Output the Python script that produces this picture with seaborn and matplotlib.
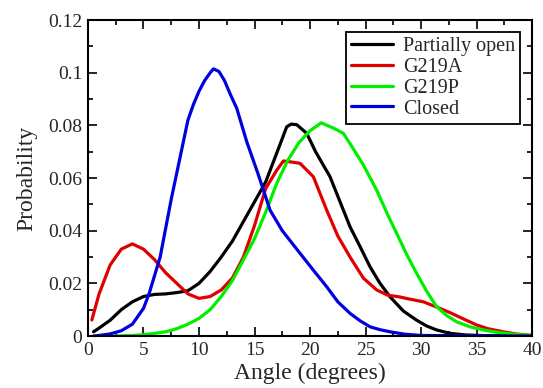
import pandas as pd
import matplotlib
matplotlib.use("Agg")
import matplotlib.pyplot as plt
import seaborn as sns
from matplotlib.ticker import MultipleLocator

# Distribution des angles pour les 4 états
open_x = [0.5, 1, 2, 3, 4, 5, 6, 7, 8, 9, 10, 11, 12, 13, 14, 15, 16, 17, 17.9, 18.3, 18.8,
          19.7, 20.5, 21.8, 22.7, 23.6, 24.5, 25.4, 26.3, 27.2, 28.4, 29.6, 30.5, 31.4,
          32.6, 34, 36, 40]
open_y = [0.0016, 0.003, 0.006, 0.010, 0.013, 0.015, 0.0158, 0.016, 0.0165, 0.0172, 0.020,
          0.0245, 0.030, 0.036, 0.0435, 0.051, 0.0585, 0.0695, 0.0795, 0.0805, 0.0803,
          0.077, 0.070, 0.0605, 0.051, 0.0415, 0.034, 0.0263, 0.020, 0.0149, 0.0095, 0.006,
          0.0038, 0.0023, 0.001, 0.0004, 0.0001, 0.0]

g219a_x = [0.35, 1, 2, 3, 4, 5, 6, 7, 8, 9, 10, 11, 12, 13, 14, 15, 16, 17, 17.6, 18.5,
           19.1, 20.3, 21.5, 22.5, 23.6, 24.8, 26, 27, 28, 29, 30.2, 31.4, 32.6, 33.8, 35,
           36, 37.4, 38.5, 40]
g219a_y = [0.0061, 0.016, 0.027, 0.033, 0.035, 0.033, 0.029, 0.024, 0.020, 0.016, 0.0143,
           0.015, 0.0175, 0.022, 0.030, 0.042, 0.056, 0.063, 0.0665, 0.066, 0.0656, 0.0605,
           0.0478, 0.038, 0.030, 0.022, 0.0175, 0.0155, 0.0149, 0.014, 0.013, 0.011, 0.0089,
           0.0065, 0.0042, 0.0028, 0.0016, 0.0008, 0.0002]

g219p_x = [2.5, 4, 5, 6, 7, 8, 9, 10, 11, 12, 13, 14, 15, 16, 17, 18, 19, 20, 21, 22.1,
           23, 23.6, 24.8, 26, 27, 27.8, 28.7, 29.6, 30.5, 31.4, 32.3, 33.2, 34.4, 35.6, 37,
           38.5, 40]
g219p_y = [0.0, 0.0002, 0.0005, 0.001, 0.0016, 0.0028, 0.0045, 0.0067, 0.010, 0.015, 0.021,
           0.029, 0.037, 0.047, 0.058, 0.0668, 0.0735, 0.078, 0.081, 0.079, 0.077, 0.0731,
           0.065, 0.0554, 0.046, 0.039, 0.031, 0.0238, 0.017, 0.0111, 0.0078, 0.0054,
           0.0035, 0.0023, 0.0013, 0.0006, 0.0002]

closed_x = [0.5, 1, 2, 3, 4, 5, 5.5, 6, 6.5, 7, 7.5, 8, 8.5, 9, 9.5, 10, 10.5, 11, 11.3,
            11.8, 12.3, 12.8, 13.4, 14.3, 15.3, 16.4, 17.5, 19.1, 20.3, 21.5, 22.5, 23.6,
            24.5, 25.4, 26.3, 27.2, 28.5, 30, 40]
closed_y = [0.0, 0.0002, 0.0008, 0.002, 0.0045, 0.0105, 0.016, 0.023, 0.030, 0.041, 0.052,
            0.062, 0.072, 0.082, 0.088, 0.093, 0.097, 0.100, 0.1015, 0.1005, 0.097, 0.092,
            0.0865, 0.0738, 0.0618, 0.0478, 0.040, 0.0314, 0.025, 0.0187, 0.013, 0.0086,
            0.0058, 0.0035, 0.0024, 0.0016, 0.0007, 0.0002, 0.0]

labels = ["Partially open", "G219A", "G219P", "Closed"]
colors = ["#000000", "#e00000", "#00ee00", "#0000e0"]

# Format long pour seaborn
frames = []
for lab, xs, ys in zip(labels, [open_x, g219a_x, g219p_x, closed_x],
                       [open_y, g219a_y, g219p_y, closed_y]):
    frames.append(pd.DataFrame({"Angle": xs, "Probability": ys, "State": lab}))
data = pd.concat(frames, ignore_index=True)

sns.set_style("ticks")
plt.rcParams["font.family"] = ["Liberation Serif", "DejaVu Serif"]

fig = plt.figure(figsize=(5.43, 3.88), dpi=100)
ax = fig.add_axes([0.162, 0.134, 0.818, 0.814])

sns.lineplot(data=data, x="Angle", y="Probability", hue="State", hue_order=labels,
             palette=dict(zip(labels, colors)), estimator=None, sort=True,
             linewidth=2.3, ax=ax)

ax.set_xlim(0, 40)
ax.set_ylim(0, 0.12)
ax.xaxis.set_major_locator(MultipleLocator(5))
ax.xaxis.set_minor_locator(MultipleLocator(2.5))
ax.yaxis.set_minor_locator(MultipleLocator(0.01))
ax.set_yticks([0, 0.02, 0.04, 0.06, 0.08, 0.1, 0.12])
ax.set_yticklabels(["0", "0.02", "0.04", "0.06", "0.08", "0.1", "0.12"])
ax.tick_params(which="both", direction="in", top=True, right=True, width=1.2,
               labelsize=14, pad=4, color="black")
ax.tick_params(which="major", length=6.5)
ax.tick_params(which="minor", length=3.5)
for s in ax.spines.values():
    s.set_linewidth(1.5)
    s.set_color("black")

ax.set_xlabel("Angle (degrees)", fontsize=17, labelpad=3)
ax.set_ylabel("Probability", fontsize=17, labelpad=8)

leg = ax.legend(loc="upper right", fontsize=14.5, frameon=True, fancybox=False,
                edgecolor="black", framealpha=1, borderaxespad=0.6, handlelength=2.1,
                handletextpad=0.5, labelspacing=0.08, borderpad=0.25)
leg.get_frame().set_linewidth(1.3)

fig.savefig("out.png", dpi=100)
